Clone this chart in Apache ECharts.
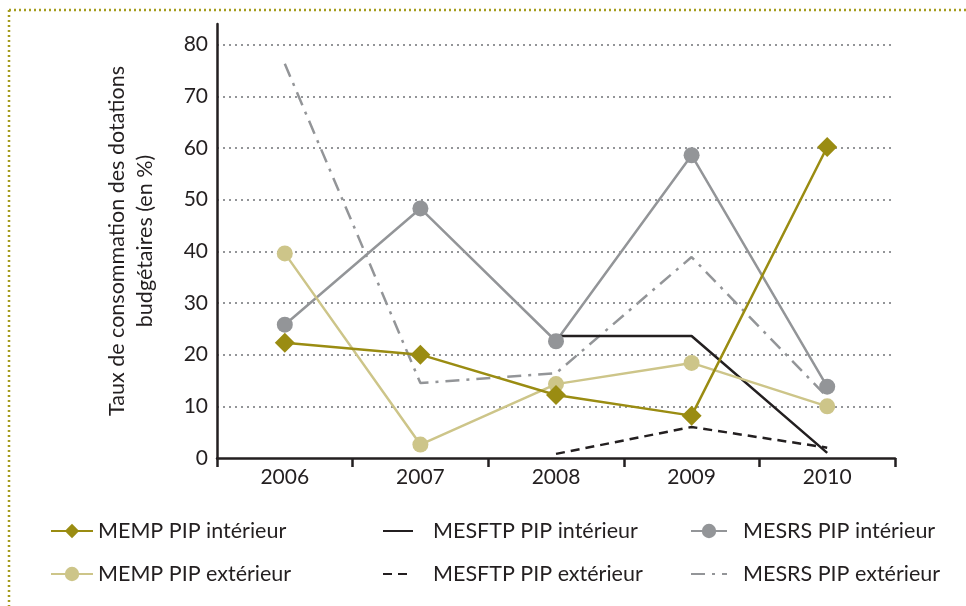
<!DOCTYPE html>
<html>
<head>
<meta charset="utf-8">
<script src="https://cdn.jsdelivr.net/npm/echarts@6/dist/echarts.min.js"></script>
<style>
html,body{margin:0;padding:0;background:#fff;}
#c{width:966px;height:606px;}
</style>
</head>
<body>
<div id="c"></div>
<script>
var categories = ['2006', '2007', '2008', '2009', '2010'];
var mempInterieur = [22.3, 20.0, 12.2, 8.2, 60.2];
var mempExterieur = [39.6, 2.6, 14.3, 18.4, 10.0];
var mesftpInterieur = ['-', '-', 23.6, 23.6, 1.0];
var mesftpExterieur = ['-', '-', 0.8, 6.0, 2.0];
var mesrsInterieur = [25.8, 48.3, 22.6, 58.6, 13.8];
var mesrsExterieur = [76.3, 14.5, 16.4, 38.9, 11.8];
var yTicks = [0, 10, 20, 30, 40, 50, 60, 70, 80];

var names = ['MEMP PIP intérieur', 'MEMP PIP extérieur', 'MESFTP PIP intérieur',
             'MESFTP PIP extérieur', 'MESRS PIP intérieur', 'MESRS PIP extérieur'];

var FONT = 'Lato';
var TXT = '#231f20';
var OLIVE = '#9a8c12';
var TAN = '#cdc589';
var GREY = '#939598';
var BLACK = '#231f20';

var chart = echarts.init(document.getElementById('c'));

function legendCfg(left, data, w, pad) {
  return {
    left: left, top: 515, orient: 'vertical', itemGap: 21,
    itemWidth: w, itemHeight: 18, data: data,
    textStyle: {fontFamily: FONT, fontSize: 21.5, color: TXT, lineHeight: 22,
                padding: [0, 0, 0, pad]},
    selectedMode: false
  };
}

chart.setOption({
  animation: false,
  backgroundColor: '#fff',
  textStyle: {fontFamily: FONT},
  grid: {left: 217, right: 71, top: 24, bottom: 148, containLabel: false},
  legend: [
    legendCfg(45, [names[0], names[1]], 42, 0),
    legendCfg(377, [
      {name: names[2], itemStyle: {opacity: 0}},
      {name: names[3], itemStyle: {opacity: 0}}
    ], 30, 15),
    legendCfg(685, [
      names[4],
      {name: names[5], itemStyle: {opacity: 0}}
    ], 36, 11)
  ],
  xAxis: {
    type: 'category', data: categories, boundaryGap: true,
    axisLine: {show: true, lineStyle: {color: BLACK, width: 2.5}},
    axisTick: {show: true, length: 9, lineStyle: {color: BLACK, width: 2.5}},
    axisLabel: {fontFamily: FONT, fontSize: 21, color: TXT, margin: 9},
    splitLine: {show: false}
  },
  yAxis: {
    type: 'value', min: 0, max: 84, interval: 10,
    name: 'Taux de consommation des dotations\nbudgétaires (en %)',
    nameLocation: 'middle', nameGap: 58, nameRotate: 90,
    nameTextStyle: {fontFamily: FONT, fontSize: 21.5, color: TXT, lineHeight: 28},
    axisLine: {show: true, lineStyle: {color: BLACK, width: 2.5}},
    axisTick: {show: false},
    axisLabel: {
      fontFamily: FONT, fontSize: 21, color: TXT, margin: 9,
      showMaxLabel: false,
      formatter: function (v) { return yTicks.indexOf(v) >= 0 ? String(v) : ''; }
    },
    splitLine: {show: true, showMaxLine: false, showMinLine: false,
      lineStyle: {color: GREY, width: 2, type: [2, 4]}}
  },
  graphic: [
    {type: 'line', shape: {x1: 9, y1: 10, x2: 966, y2: 10}, silent: true,
     style: {stroke: '#a59c1e', lineWidth: 2.5, lineDash: [2, 3]}},
    {type: 'line', shape: {x1: 9, y1: 10, x2: 9, y2: 606}, silent: true,
     style: {stroke: '#a59c1e', lineWidth: 2.5, lineDash: [2, 3]}}
  ],
  series: [
    {name: names[5], type: 'line', data: mesrsExterieur, symbol: 'none',
     itemStyle: {color: GREY}, lineStyle: {color: GREY, width: 2.5, type: [14, 7, 3, 7]}},
    {name: names[4], type: 'line', data: mesrsInterieur, symbol: 'circle', symbolSize: 16,
     itemStyle: {color: GREY}, lineStyle: {color: GREY, width: 2.5}},
    {name: names[2], type: 'line', data: mesftpInterieur, symbol: 'none',
     itemStyle: {color: BLACK}, lineStyle: {color: BLACK, width: 2.5}},
    {name: names[3], type: 'line', data: mesftpExterieur, symbol: 'none',
     itemStyle: {color: BLACK}, lineStyle: {color: BLACK, width: 2.5, type: [9, 6]}},
    {name: names[1], type: 'line', data: mempExterieur, symbol: 'circle', symbolSize: 16,
     itemStyle: {color: TAN}, lineStyle: {color: TAN, width: 2.5}},
    {name: names[0], type: 'line', data: mempInterieur, symbol: 'diamond', symbolSize: 20,
     itemStyle: {color: OLIVE}, lineStyle: {color: OLIVE, width: 2.5}}
  ]
});
</script>
</body>
</html>
